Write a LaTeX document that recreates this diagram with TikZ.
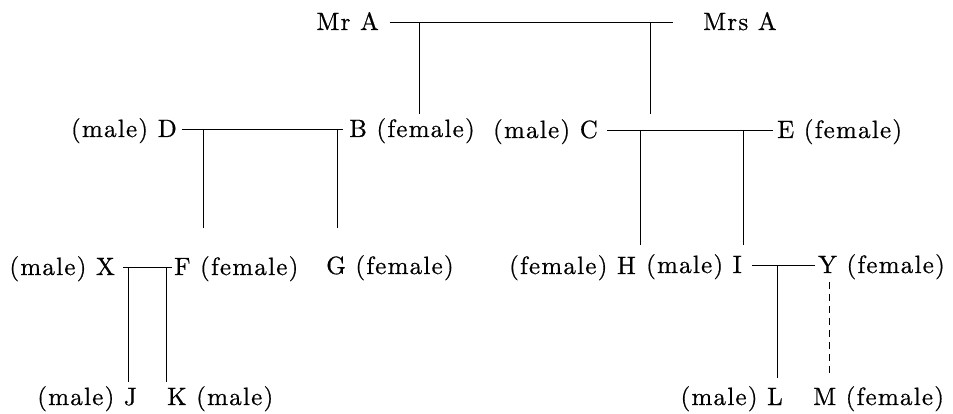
\documentclass[tikz,border=0pt]{standalone}
\usepackage{fontspec}
\setmainfont{lmroman10-regular.otf}[LetterSpace=5, FakeBold=0.6]
\usepackage{tikz}
\usetikzlibrary{positioning,calc}
\tikzset{
  person/.style={inner ysep=0pt, inner xsep=0pt, text height=16pt, text depth=0pt,
                 font=\fontsize{25}{30}\selectfont},
  kin/.style={line width=0.8pt, color=black},
  kinmaybe/.style={kin, dash pattern=on 7pt off 5pt}}

\begin{document}
\begin{tikzpicture}[x=1pt, y=-1pt]
    \useasboundingbox (0,0) rectangle (953,414);
    % generation 1
    \node[person, anchor=east, inner xsep=11pt] (mra) at (390,22) {Mr A};
    \node[person, anchor=west, inner xsep=30pt] (mrsa) at (673,22) {Mrs A};
    % generation 2
    \node[person, anchor=east, inner xsep=5pt] (d) at (182,129) {(male) D};
    \node[person, anchor=west, inner xsep=6pt] (b) at (343,129) {B (female)};
    \node[person, anchor=east, inner xsep=9pt] (c) at (607,130) {(male) C};
    \node[person, anchor=west, inner xsep=4pt] (e) at (773,130) {E (female)};
    % generation 3
    \node[person, anchor=east, inner xsep=8pt] (x) at (123,267) {(male) X};
    \node[person, anchor=west, inner xsep=2pt] (f) at (172,267) {F (female)};
    \node[person, anchor=west] (g) at (326,266) {G (female)};
    \node[person, anchor=east] (h) at (636,266) {(female) H};
    \node[person, anchor=east, inner xsep=10pt] (i) at (752,265) {(male) I};
    \node[person, anchor=west, inner xsep=3pt] (y) at (815,265) {Y (female)};
    % generation 4
    \node[person, anchor=east] (j) at (137,397) {(male) J};
    \node[person, anchor=west] (k) at (167,397) {K (male)};
    \node[person, anchor=east] (l) at (783,397) {(male) L};
    \node[person, anchor=west] (m) at (813,397) {M (female)};

    % where the drops end
    \coordinate (tob) at (419,114);
    \coordinate (toc) at (650,114);
    \coordinate (tof) at (203,228);
    \coordinate (tog) at (337,228);
    \coordinate (toh) at (640,245);
    \coordinate (toi) at (743,245);
    \coordinate (toj) at (128,382);
    \coordinate (tok) at (166,382);
    \coordinate (tol) at (777,378);
    \coordinate (tom) at (829,378);

    % marriages
    \draw[kin] (mra.east) -- (mrsa.west);
    \draw[kin] (d.east) -- (b.west);
    \draw[kin] (c.east) -- (e.west);
    \draw[kin] (x.east) -- (f.west);
    \draw[kin] (i.east) -- (y.west);

    % children
    \draw[kin] (tob |- mra.east) -- (tob);
    \draw[kin] (toc |- mra.east) -- (toc);
    \draw[kin] (tof |- d.east) -- (tof);
    \draw[kin] (tog |- d.east) -- (tog);
    \draw[kin] (toh |- c.east) -- (toh);
    \draw[kin] (toi |- c.east) -- (toi);
    \draw[kin] (toj |- x.east) -- (toj);
    \draw[kin] (tok |- x.east) -- (tok);
    \draw[kin] (tol |- i.east) -- (tol);
    \draw[kinmaybe] ($(y.south -| tom)+(0,9)$) -- (tom);
  \end{tikzpicture}
\end{document}
